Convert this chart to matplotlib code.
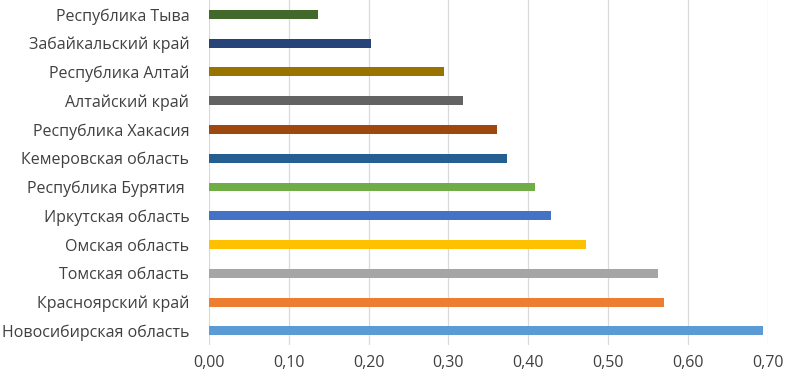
import matplotlib.pyplot as plt
from matplotlib.ticker import FuncFormatter

regions = ["Новосибирская область", "Красноярский край", "Томская область",
           "Омская область", "Иркутская область", "Республика Бурятия ",
           "Кемеровская область", "Республика Хакасия", "Алтайский край",
           "Республика Алтай", "Забайкальский край", "Республика Тыва"]
values = [0.694, 0.570, 0.563, 0.473, 0.429, 0.409,
          0.373, 0.361, 0.318, 0.295, 0.203, 0.137]
colors = ["#5B9BD5", "#ED7D31", "#A5A5A5", "#FFC000", "#4472C4", "#70AD47",
          "#255E91", "#9E480E", "#636363", "#997300", "#264478", "#43682B"]

plt.rcParams['font.family'] = ['Open Sans', 'DejaVu Sans']

fig = plt.figure(figsize=(7.85, 3.79), dpi=100)
ax = fig.add_axes([0.266, 0.089, 0.712, 0.911])

y = range(len(regions))
ax.barh(y, values, height=0.31, color=colors, zorder=3)
ax.set_yticks(list(y))
ax.set_yticklabels(regions, fontsize=11.5, color="#404040")
ax.set_ylim(-0.5, len(regions) - 0.5)

ax.set_xlim(0, 0.70)
ax.set_xticks([i / 10 for i in range(8)])
ax.xaxis.set_major_formatter(FuncFormatter(lambda v, p: f"{v:.2f}".replace(".", ",")))
ax.tick_params(axis='x', labelsize=11.5, labelcolor="#404040", length=0, pad=7)
ax.tick_params(axis='y', length=0, pad=14)
ax.grid(axis='x', color="#D9D9D9", linewidth=0.9, zorder=0)
for s in ax.spines.values():
    s.set_visible(False)

plt.savefig("out.png", dpi=100)
